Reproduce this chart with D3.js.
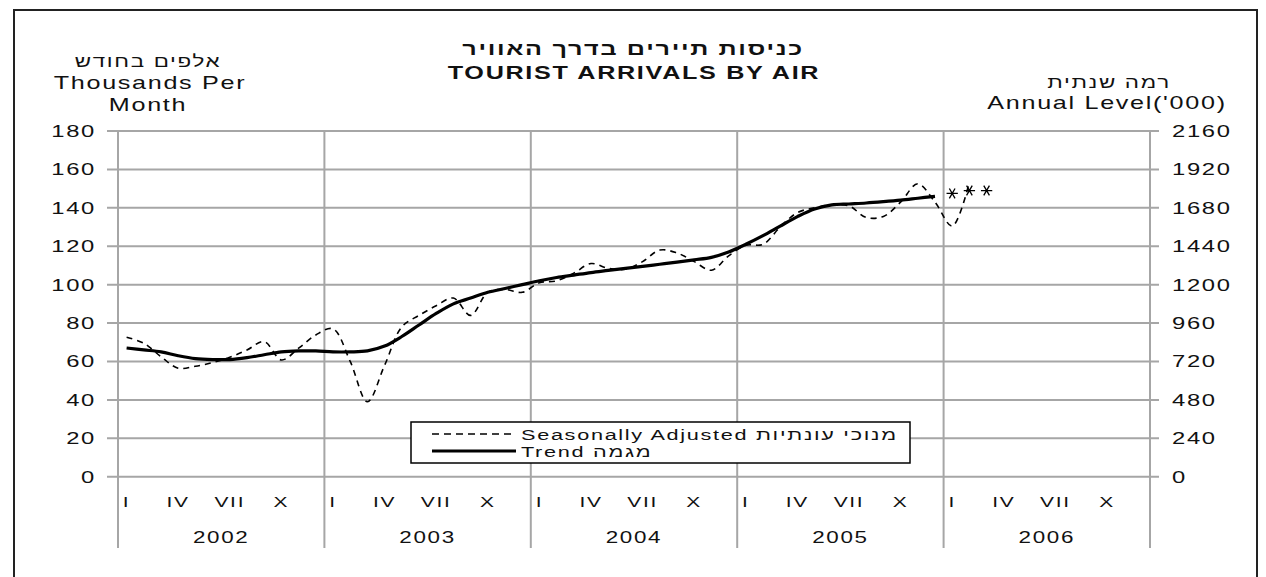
<!DOCTYPE html>
<html>
<head>
<meta charset="utf-8">
<script src="https://cdn.jsdelivr.net/npm/d3@7"></script>
<style>
  body { margin: 0; background: #fff; }
  text { font-family: "Liberation Sans", Arial, sans-serif; fill: #111; }
</style>
</head>
<body>
<div id="chart"></div>
<script>
// Chart data (thousands of tourists per month)
var years = ["2002", "2003", "2004", "2005", "2006"];
var monthLabels = ["I", "IV", "VII", "X"];
var monthLabelPos = [0, 3, 6, 9];
var leftTicks = [0, 20, 40, 60, 80, 100, 120, 140, 160, 180];
var rightTicks = [0, 240, 480, 720, 960, 1200, 1440, 1680, 1920, 2160];

// Trend, Jan 2002 - Dec 2005
var trend = [
  67, 66, 65, 63, 61.5, 61, 61, 62, 63.5, 65, 65.5, 65.5,
  65, 65, 65.5, 68, 73, 79, 85, 90, 93, 96, 98, 100,
  102, 103.7, 105, 106.3, 107.4, 108.5, 109.5, 110.6, 111.7, 112.9, 114.2, 117,
  121, 125.5, 130.5, 135.4, 139.4, 141.5, 142, 142.5, 143.2, 144, 145, 146
];

// Seasonally adjusted, Jan 2002 - Feb 2006
var seasAdj = [
  72.6, 69.5, 62.5, 56.5, 57.5, 59.4, 62.2, 66, 70.3, 60.8, 66.9, 73.8,
  77, 60, 39, 58, 78, 84, 89, 93, 84, 96, 97.5, 96,
  101, 102, 106, 111, 108.5, 108, 112, 118, 116.5, 112, 107.5, 115,
  120.5, 121, 130, 137.5, 140, 141.5, 141, 135, 135.5, 143, 152.5, 143,
  130.5, 153.5
];

// Preliminary estimates (asterisks), Jan - Mar 2006
var prelim = [147.5, 149, 149];
var prelimStart = 48;

var svgWidth = 1266;
var svgHeight = 577;
var textScale = 1.4;

var svg = d3.select("#chart")
  .append("svg")
  .attr("width", svgWidth)
  .attr("height", svgHeight);

// outer frame
svg.append("rect")
  .attr("x", 14).attr("y", 10)
  .attr("width", 1243).attr("height", 600)
  .attr("fill", "none")
  .attr("stroke", "#222")
  .attr("stroke-width", 2);

var x = d3.scaleLinear().domain([0, 60]).range([118, 1150]);
var y = d3.scaleLinear().domain([0, 180]).range([476.7, 131]);
var yRight = d3.scaleLinear().domain([0, 2160]).range([476.7, 131]);

// stretched, spaced text like the original bitmap
function label(txt, px, py, anchor, size, bold) {
  return svg.append("text")
    .attr("transform", `translate(${px}, ${py}) scale(${textScale}, 1)`)
    .attr("text-anchor", anchor)
    .style("font-size", size + "px")
    .style("font-weight", bold ? "bold" : "normal")
    .style("letter-spacing", "1.2px")
    .text(txt);
}

var grid = "#a6a6a6";

// horizontal gridlines
svg.selectAll(".hgrid")
  .data(leftTicks)
  .enter()
  .append("line")
  .attr("x1", 107).attr("x2", 1159)
  .attr("y1", d => y(d)).attr("y2", d => y(d))
  .attr("stroke", grid)
  .attr("stroke-width", 2);

// vertical year separators (plus both axes)
svg.selectAll(".vgrid")
  .data(d3.range(0, 61, 12))
  .enter()
  .append("line")
  .attr("x1", d => x(d)).attr("x2", d => x(d))
  .attr("y1", y(180)).attr("y2", 548)
  .attr("stroke", grid)
  .attr("stroke-width", 2);

// axis tick labels
leftTicks.forEach(function(t) {
  label(t, 96, y(t) + 6, "end", 17);
});
rightTicks.forEach(function(t) {
  label(t, 1172, yRight(t) + 6, "start", 17);
});

years.forEach(function(yr, i) {
  monthLabels.forEach(function(m, j) {
    label(m, x(i * 12 + monthLabelPos[j] + 0.5), 507, "middle", 15);
  });
  label(yr, x(i * 12 + 6), 543, "middle", 16);
});

// axis titles
label("אלפים בחודש", 148, 67, "middle", 16);
label("Thousands Per", 150, 89, "middle", 18);
label("Month", 148, 111, "middle", 18);
label("רמה שנתית", 1109, 88, "middle", 16);
label("Annual Level('000)", 1107, 109, "middle", 18);

// chart title
label("כניסות תיירים בדרך האוויר", 633, 55, "middle", 18, true);
label("TOURIST ARRIVALS BY AIR", 634, 79, "middle", 18, true);

// legend
svg.append("rect")
  .attr("x", 411).attr("y", 422)
  .attr("width", 499).attr("height", 41)
  .attr("fill", "#fff")
  .attr("stroke", "#000")
  .attr("stroke-width", 1.5);

svg.append("line")
  .attr("x1", 432).attr("x2", 516)
  .attr("y1", 434).attr("y2", 434)
  .attr("stroke", "#000").attr("stroke-width", 1.5)
  .attr("stroke-dasharray", "7,5");

svg.append("line")
  .attr("x1", 432).attr("x2", 516)
  .attr("y1", 451).attr("y2", 451)
  .attr("stroke", "#000").attr("stroke-width", 3);

label("Seasonally Adjusted מנוכי עונתיות", 521, 440, "start", 15.5);
label("Trend מגמה", 521, 457, "start", 15.5);

// series lines
var line = d3.line()
  .x((d, i) => x(i + 0.5))
  .y(d => y(d))
  .curve(d3.curveCatmullRom.alpha(0.5));

svg.append("path")
  .datum(seasAdj)
  .attr("d", line)
  .attr("fill", "none")
  .attr("stroke", "#000")
  .attr("stroke-width", 1.6)
  .attr("stroke-dasharray", "6,5");

svg.append("path")
  .datum(trend)
  .attr("d", line)
  .attr("fill", "none")
  .attr("stroke", "#000")
  .attr("stroke-width", 3.2);

// preliminary points
svg.selectAll(".prelim")
  .data(prelim)
  .enter()
  .append("path")
  .attr("transform", (d, i) => `translate(${x(prelimStart + i + 0.5)}, ${y(d)}) rotate(90)`)
  .attr("d", d3.symbol().type(d3.symbolAsterisk).size(90))
  .attr("fill", "none")
  .attr("stroke", "#000")
  .attr("stroke-width", 1.3);
</script>
</body>
</html>
